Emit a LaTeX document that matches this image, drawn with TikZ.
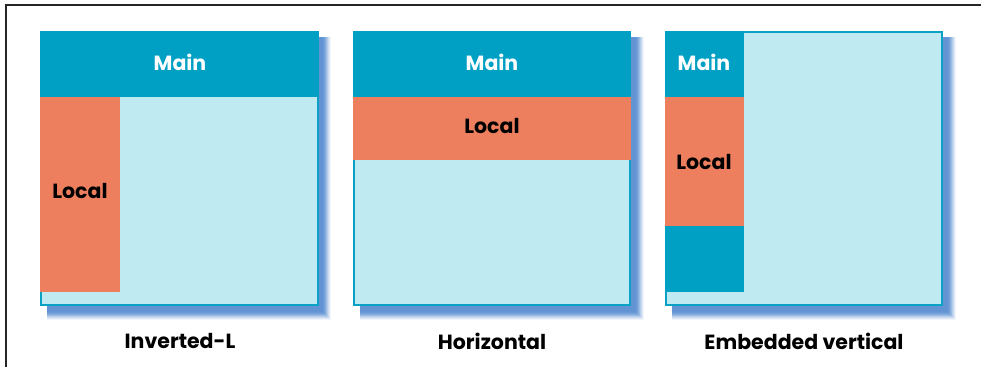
\documentclass[tikz,border=0pt]{standalone}
\usepackage{fontspec}
\setmainfont{Poppins}
\definecolor{mainc}{HTML}{00A0C4}
\definecolor{localc}{HTML}{EE7F5E}
\definecolor{lightc}{HTML}{C0EAF2}
\definecolor{borderc}{HTML}{0AA2C4}
\definecolor{shadc}{HTML}{5A8FD2}
\begin{document}
\begin{tikzpicture}[x=1pt,y=-1pt,
  txt/.style={font=\fontsize{20.5}{24}\selectfont\bfseries, inner sep=0pt},
  wtxt/.style={txt, text=white},
  panelbox/.style={fill=lightc, draw=borderc, line width=2pt},
  mainbox/.style={fill=mainc},
  localbox/.style={fill=localc}]
\useasboundingbox (0,0) rectangle (981,367);
\draw[line width=1.5pt, black!85] (6,367) -- (6,5) -- (981,5);
% shadows
\foreach \x in {40,353,665}{
  \foreach \k/\o in {8/0.08,7/0.12,6/0.16,5/0.2,4/0.26,3/0.32,2/0.38,1/0.44,0/0.5}{
    \fill[shadc, opacity=\o] (\x+7,37) rectangle (\x+279+4+\k,306+6+\k);
  }
}
% panel 1
\draw[panelbox] (41,32) rectangle (318,305);
\fill[mainbox] (40,31) rectangle (319,97);
\fill[localbox] (40,97) rectangle (120,292);
\node[wtxt] (m1) at (180,62) {Main};
\node[txt] (l1) at (80,191) {Local};
\node[txt] (c1) at (180,341) {Inverted-L};
% panel 2
\draw[panelbox] (354,32) rectangle (630,305);
\fill[mainbox] (353,31) rectangle (631,97);
\fill[localbox] (353,97) rectangle (631,160);
\node[wtxt] (m2) at (492,62) {Main};
\node[txt] (l2) at (492,126) {Local};
\node[txt] (c2) at (492,341) {Horizontal};
% panel 3
\draw[panelbox] (666,32) rectangle (942,305);
\fill[mainbox] (665,31) rectangle (744,97);
\fill[localbox] (665,97) rectangle (744,226);
\fill[mainbox] (665,226) rectangle (744,292);
\node[wtxt] (m3) at (704,62) {Main};
\node[txt] (l3) at (704,162) {Local};
\node[txt] (c3) at (804,341) {Embedded vertical};
\end{tikzpicture}
\end{document}
